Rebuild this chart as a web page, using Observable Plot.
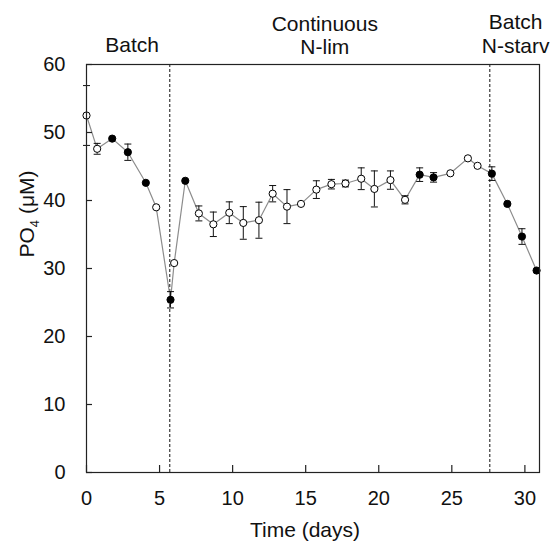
<!DOCTYPE html>
<html><head><meta charset="utf-8">
<script src="https://cdn.jsdelivr.net/npm/d3@7"></script>
<script src="https://cdn.jsdelivr.net/npm/@observablehq/plot@0.6"></script>
<style>html,body{margin:0;padding:0;background:#fff}svg{display:block}</style>
</head><body><div id="chart"></div>
<script>
// ---- data ----
const days = [0.0, 0.73, 1.76, 2.83, 4.06, 4.77, 5.75, 6.0, 6.76, 7.69, 8.68, 9.77, 10.73, 11.8, 12.74, 13.72, 14.68, 15.73, 16.76, 17.72, 18.8, 19.7, 20.8, 21.8, 22.8, 23.75, 24.9, 26.1, 26.76, 27.74, 28.8, 29.8, 30.8];
const po4  = [52.5, 47.6, 49.1, 47.1, 42.6, 39.0, 25.4, 30.8, 42.9, 38.1, 36.5, 38.2, 36.7, 37.1, 41.0, 39.1, 39.5, 41.6, 42.4, 42.5, 43.2, 41.7, 43.0, 40.1, 43.8, 43.4, 44.0, 46.2, 45.1, 43.95, 39.5, 34.7, 29.7];
const sd   = [4.4, 0.8, 0, 1.2, 0, 0, 1.2, 0, 0, 1.1, 1.8, 1.6, 2.4, 2.65, 1.2, 2.5, 0, 1.3, 0.7, 0.5, 1.6, 2.65, 1.35, 0.6, 1.0, 0.7, 0, 0, 0, 1.0, 0, 1.15, 0];
const kind = ["open","open","filled","filled","filled","open","filled","open","filled","open","open","open","open","open","open","open","open","open","open","open","open","open","open","open","filled","filled","open","open","open","filled","filled","filled","filled"];
const phaseBreaks = [5.7, 27.6];
const phaseLabels = ["Batch", "Continuous\nN-lim", "Batch\nN-starv"];
const xTicks = [0, 5, 10, 15, 20, 25, 30];
const yTicks = [0, 10, 20, 30, 40, 50, 60];
const xLabel = "Time (days)";
const yLabel = "PO4 (μM)";

// ---- build ----
const data = days.map((d, i) => ({day: d, po4: po4[i], sd: sd[i], kind: kind[i]}));
const bars = data.filter(d => d.sd > 0);
const xDomain = [0, 31];
const bounds = [xDomain[0], ...phaseBreaks, xDomain[1]];
const phases = phaseLabels.map((t, i) => ({text: t, x: (bounds[i] + bounds[i + 1]) / 2}));

const capSymbol = {draw(ctx, size) { const w = Math.sqrt(size / Math.PI); ctx.moveTo(-w, 0); ctx.lineTo(w, 0); }};

const W = 553, H = 552, mL = 86, mR = 14, mT = 64, mB = 80;
const fw = W - mL - mR, fh = H - mT - mB;
const font = '"Liberation Sans", Arial, Helvetica, sans-serif';

const chart = Plot.plot({
  width: W, height: H,
  marginLeft: mL, marginRight: mR, marginTop: mT, marginBottom: mB,
  style: {fontFamily: font, fontSize: "20px", background: "#fff", color: "#111"},
  x: {domain: xDomain, ticks: xTicks, tickSize: 0, tickPadding: 18, label: null},
  y: {domain: [0, 60], ticks: yTicks, tickSize: 0, tickPadding: 21, label: null},
  marks: [
    Plot.ruleX(phaseBreaks, {x: d => d, stroke: "#111", strokeWidth: 1, strokeDasharray: "3,2"}),
    Plot.line(data, {x: "day", y: "po4", stroke: "#8c8c8c", strokeWidth: 1.2}),
    Plot.ruleX(bars, {x: "day", y1: d => d.po4 - d.sd, y2: d => d.po4 + d.sd, stroke: "#111", strokeWidth: 1}),
    Plot.dot(bars, {x: "day", y: d => d.po4 - d.sd, symbol: capSymbol, r: 3.5, fill: "none", stroke: "#111", strokeWidth: 1}),
    Plot.dot(bars, {x: "day", y: d => d.po4 + d.sd, symbol: capSymbol, r: 3.5, fill: "none", stroke: "#111", strokeWidth: 1}),
    Plot.dot(data.filter(d => d.kind === "open"), {x: "day", y: "po4", r: 3.6, fill: "#fff", stroke: "#000", strokeWidth: 1}),
    Plot.dot(data.filter(d => d.kind === "filled"), {x: "day", y: "po4", r: 3.6, fill: "#000", stroke: "#000", strokeWidth: 1}),
    Plot.ruleX(xTicks, {x: d => d, insetTop: fh - 7, stroke: "#222", strokeWidth: 1.2}),
    Plot.ruleY(yTicks, {y: d => d, insetRight: fw - 6, stroke: "#222", strokeWidth: 1.2}),
    Plot.frame({stroke: "#222", strokeWidth: 1.2}),
    Plot.text([phases[0]], {x: "x", text: "text", frameAnchor: "top", dy: -19, dx: 4, fontSize: 21, lineAnchor: "middle", fill: "#111"}),
    Plot.text([phases[1]], {x: "x", text: "text", frameAnchor: "top", dy: -29.5, dx: -5, fontSize: 21, lineHeight: 1.13, lineAnchor: "middle", fill: "#111"}),
    Plot.text([phases[2]], {x: "x", text: "text", frameAnchor: "top", dy: -31, dx: 1, fontSize: 21, lineHeight: 1.13, lineAnchor: "middle", fill: "#111"}),
    Plot.text([xLabel], {text: d => d, frameAnchor: "bottom", dy: 58, dx: -8, fontSize: 21, lineAnchor: "middle", fill: "#111"}),
    Plot.text([yLabel], {text: d => d, frameAnchor: "left", dx: -59, dy: -11, rotate: -90, fontSize: 21, lineAnchor: "middle", fill: "#111"})
  ]
});

// subscript the 4 in PO4
d3.select(chart).selectAll("text").filter(function() { return this.textContent === yLabel; }).each(function() {
  const t = d3.select(this);
  t.text(null);
  t.append("tspan").text("PO");
  t.append("tspan").attr("font-size", "0.62em").attr("dy", "0.35em").text("4");
  t.append("tspan").attr("dy", "-0.22em").text(" (μM)");
});

document.getElementById("chart").appendChild(chart);
</script>
</body></html>
